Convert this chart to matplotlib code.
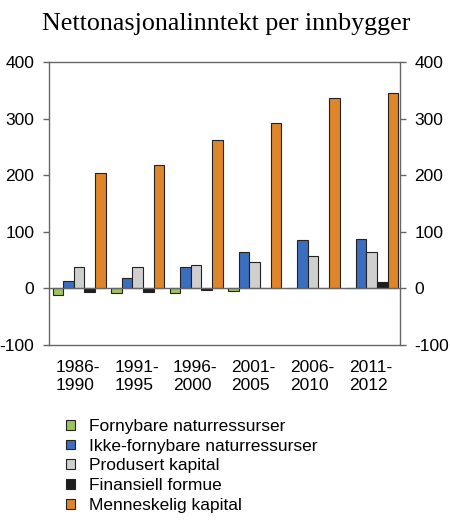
import numpy as np
import matplotlib
matplotlib.use("Agg")
import matplotlib.pyplot as plt
from matplotlib.patches import Patch

periods = ["1986-\n1990", "1991-\n1995", "1996-\n2000", "2001-\n2005", "2006-\n2010", "2011-\n2012"]
series_names = [
    "Fornybare naturressurser",
    "Ikke-fornybare naturressurser",
    "Produsert kapital",
    "Finansiell formue",
    "Menneskelig kapital",
]
fornybare = [-12, -8, -8, -5, 0.5, 0.5]
ikke_fornybare = [13, 19, 38, 65, 86, 87]
produsert = [38, 37, 42, 46, 58, 65]
finansiell = [-6, -6, -3, 0, 0, 12]
menneskelig = [204, 218, 262, 292, 336, 346]
colors = ["#9DC35A", "#3C6EC0", "#CFCFCF", "#1E1E1E", "#E0862A"]

plt.rcParams["font.family"] = ["Liberation Sans", "DejaVu Sans"]
plt.rcParams["axes.unicode_minus"] = False

fig = plt.figure(figsize=(4.5, 5.32), dpi=100)
ax = fig.add_axes([0.1089, 0.3515, 0.78, 0.532])

x = np.arange(len(periods))
width = 0.181
all_series = [fornybare, ikke_fornybare, produsert, finansiell, menneskelig]
for i, (values, color) in enumerate(zip(all_series, colors)):
    ax.bar(x + (i - 2) * width + 0.015, values, width, color=color,
           edgecolor="#222222", linewidth=0.8, zorder=2)

ax.axhline(0, color="#666666", linewidth=1.0, zorder=3)
ax.set_xlim(-0.5, len(periods) - 0.5)
ax.set_ylim(-100, 400)
ax.set_yticks([-100, 0, 100, 200, 300, 400])
ax.set_xticks(x)
ax.set_xticklabels(periods, multialignment="left", fontsize=12.5, linespacing=1.3)
ax.tick_params(axis="x", length=0, pad=10.5)
ax.tick_params(axis="y", which="both", direction="out", length=4, width=1,
               color="#666666", labelsize=12.5, pad=6.5, right=True, labelright=True)
for spine in ax.spines.values():
    spine.set_color("#666666")
    spine.set_linewidth(1.0)

fig.text(0.502, 0.955, "Nettonasjonalinntekt per innbygger", ha="center", va="center",
         fontsize=18.7, family=["Liberation Serif", "DejaVu Serif"])

handles = [Patch(facecolor=c, edgecolor="#222222", linewidth=0.8) for c in colors]
fig.legend(handles, series_names, loc="upper left", bbox_to_anchor=(0.147, 0.2124),
           frameon=False, fontsize=12.5, handlelength=0.5, handleheight=0.5,
           handletextpad=0.8, labelspacing=0.27, borderaxespad=0, borderpad=0)

fig.savefig("out.png", dpi=100)
